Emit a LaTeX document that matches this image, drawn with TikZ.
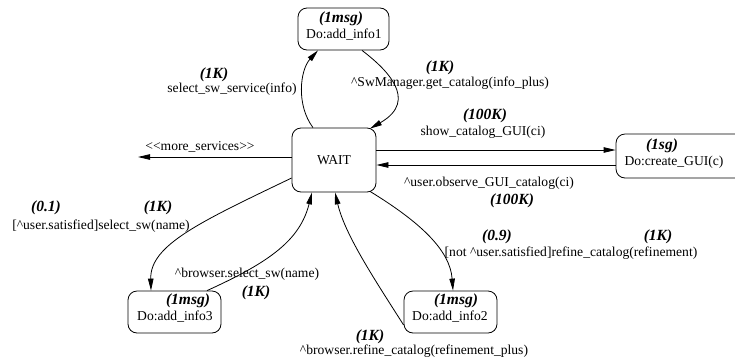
\documentclass[tikz,border=0pt]{standalone}
\usepackage{fontspec}
\setmainfont{Liberation Serif}
\usetikzlibrary{arrows.meta}
\begin{document}
\begin{tikzpicture}[x=1pt,y=-1pt,
  box/.style={draw, rounded corners=9pt, line width=0.8pt, inner sep=0pt},
  lbl/.style={font=\fontsize{13.6}{15}\selectfont, inner sep=0pt},
  wt/.style={font=\fontsize{15.5}{17}\selectfont\bfseries\itshape, inner sep=0pt},
  conn/.style={line width=0.8pt, -{Triangle[length=12pt,width=5.5pt]}}]
\clip (0,0) rectangle (735,362);
\useasboundingbox (0,0) rectangle (735,362);
% states
\node[box, minimum width=84pt, minimum height=64pt] (wait) at (334,160) {};
\node[lbl] (waitt) at (334,160) {WAIT};
\node[box, minimum width=91pt, minimum height=42pt] (info1) at (343.5,29) {};
\node[box, minimum width=130pt, minimum height=44pt] (gui) at (681,156) {};
\node[box, minimum width=93pt, minimum height=42pt] (info3) at (174.5,312) {};
\node[box, minimum width=93pt, minimum height=42pt] (info2) at (450.5,312) {};
% state texts
\node[wt]  (i1a) at (341,19) {(1msg)};
\node[lbl] (i1b) at (344,35) {Do:add\_info1};
\node[wt]  (ga) at (662,146) {(1sg)};
\node[lbl] (gb) at (674,162) {Do:create\_GUI(c)};
\node[wt]  (i3a) at (188,301) {(1msg)};
\node[lbl] (i3b) at (175,317) {Do:add\_info3};
\node[wt]  (i2a) at (456,301) {(1msg)};
\node[lbl] (i2b) at (450,317) {Do:add\_info2};
% free end
\coordinate (more) at (138,157);
% connectors
\draw[conn] ([xshift=-21pt]wait.north) .. controls (296,105) and (300,70) .. ([xshift=-25.5pt]info1.south);
\draw[conn] ([xshift=18.5pt]info1.south) .. controls (385,68) and (420,100) .. ([xshift=36pt,yshift=-1pt]wait.north);
\draw[conn] ([yshift=10pt]wait.east) -- ([yshift=6pt]gui.west);
\draw[conn] ([yshift=-9pt]gui.west) -- ([yshift=-5pt]wait.east);
\draw[conn] ([yshift=3pt]wait.west) -- (more);
\draw[conn] ([yshift=-18pt]wait.west) .. controls (200,222) and (150,245) .. ([xshift=-23.5pt]info3.north);
\draw[conn] ([xshift=32.5pt]info3.north) .. controls (270,262) and (300,240) .. ([xshift=-22pt]wait.south);
\draw[conn] ([yshift=-13pt]info2.west) .. controls (375,280) and (345,235) .. ([xshift=1pt]wait.south);
\draw[conn] ([xshift=36pt,yshift=1pt]wait.south) .. controls (420,222) and (450,250) .. ([xshift=2.5pt]info2.north);
% labels
\node[wt]  (l1a) at (214,75) {(1K)};
\node[lbl] (l1b) at (232,89) {select\_sw\_service(info)};
\node[wt]  (l2a) at (440,68) {(1K)};
\node[lbl] (l2b) at (450,83) {\textasciicircum SwManager.get\_catalog(info\_plus)};
\node[wt]  (l3a) at (485,116) {(100K)};
\node[lbl] (l3b) at (483,132) {show\_catalog\_GUI(ci)};
\node[lbl] (l4b) at (489,183) {\textasciicircum user.observe\_GUI\_catalog(ci)};
\node[wt]  (l4a) at (512,201) {(100K)};
\node[lbl] (l5) at (200,147) {<{}<more\_services>{}>};
\node[wt]  (l6a) at (46,208) {(0.1)};
\node[wt]  (l6c) at (158,208) {(1K)};
\node[lbl] (l6b) at (101,226) {[\textasciicircum user.satisfied]select\_sw(name)};
\node[lbl] (l7b) at (247,274) {\textasciicircum browser.select\_sw(name)};
\node[wt]  (l7a) at (256,293) {(1K)};
\node[wt]  (l8a) at (370,337) {(1K)};
\node[lbl] (l8b) at (414,351) {\textasciicircum browser.refine\_catalog(refinement\_plus)};
\node[wt]  (l9a) at (497,237) {(0.9)};
\node[wt]  (l9c) at (658,237) {(1K)};
\node[lbl] (l9b) at (571,253) {[not \textasciicircum user.satisfied]refine\_catalog(refinement)};
\end{tikzpicture}
\end{document}
